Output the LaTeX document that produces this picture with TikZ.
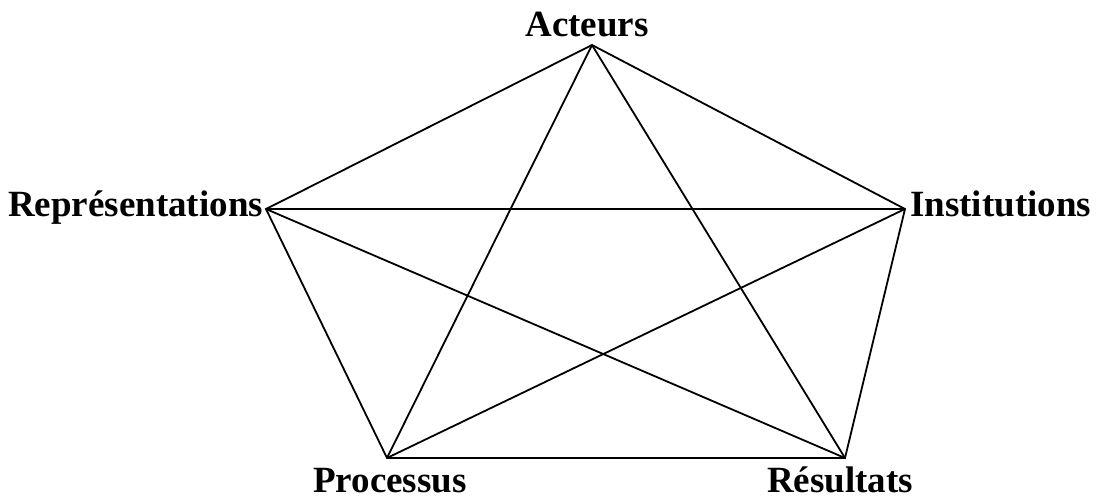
\documentclass[tikz,border=0pt]{standalone}
\usepackage{fontspec}
\setmainfont{Liberation Serif}
\begin{document}
\begin{tikzpicture}[x=1pt,y=1pt,
  lbl/.style={inner sep=0pt,font=\fontsize{37}{44}\selectfont\bfseries},
  edge/.style={line width=1.8pt,line join=miter}]
\useasboundingbox (0,0) rectangle (1096,496);
\coordinate (A) at (592,451);
\coordinate (R) at (266,287);
\coordinate (I) at (905,287);
\coordinate (P) at (387,38);
\coordinate (S) at (845,38);
\node[lbl,anchor=base] (tA) at (587,459) {Acteurs};
\node[lbl,anchor=base west] (tR) at (8,279) {Représentations};
\node[lbl,anchor=base west] (tI) at (910,279) {Institutions};
\node[lbl,anchor=base west] (tP) at (313,4) {Processus};
\node[lbl,anchor=base west] (tS) at (767,4) {Résultats};
\draw[edge] (A) -- (I) -- (S) -- (P) -- (R) -- cycle;
\draw[edge] (A) -- (P);
\draw[edge] (A) -- (S);
\draw[edge] (R) -- (I);
\draw[edge] (R) -- (S);
\draw[edge] (I) -- (P);
\end{tikzpicture}
\end{document}
